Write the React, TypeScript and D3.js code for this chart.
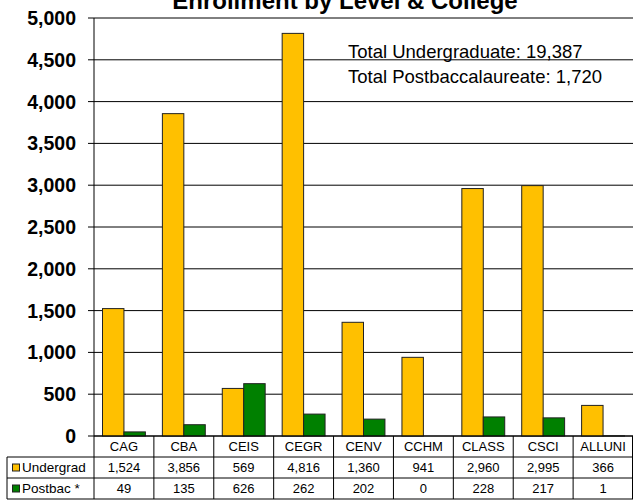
import React from "react";
import * as d3 from "d3";

const categories = ["CAG", "CBA", "CEIS", "CEGR", "CENV", "CCHM", "CLASS", "CSCI", "ALLUNI"];
const undergrad = [1524, 3856, 569, 4816, 1360, 941, 2960, 2995, 366];
const postbac = [49, 135, 626, 262, 202, 0, 228, 217, 1];
const seriesNames = ["Undergrad", "Postbac *"];
const seriesColors = ["#FFC000", "#008000"];
const yTicks = [0, 500, 1000, 1500, 2000, 2500, 3000, 3500, 4000, 4500, 5000];
const title = "Enrollment by Level & College";
const notes = ["Total Undergraduate: 19,387", "Total Postbaccalaureate: 1,720"];

export default function App() {
  const W = 633, H = 504;
  const left = 94, right = 633, top = 18, bottom = 436;
  const rowH = 21;
  const labelLeft = 7;
  const x = d3.scaleBand<string>().domain(categories).range([left, right]);
  const bw = x.bandwidth();
  const inner = d3.scaleBand<string>().domain(["u", "p"]).range([8.5, bw - 8.5]);
  const y = d3.scaleLinear().domain([0, 5000]).range([bottom, top]);
  const fmt = d3.format(",");
  const font = "Arial, 'Liberation Sans', sans-serif";
  const series = [undergrad, postbac];
  const keys = ["u", "p"];

  return (
    <svg width={W} height={H} style={{ position: "absolute", left: 0, top: 0, background: "#fff" }} fontFamily={font}>
      <rect x={0} y={0} width={W} height={H} fill="#fff" />
      {yTicks.map((t) => (
        <g key={t}>
          <line x1={left} x2={right} y1={y(t)} y2={y(t)} stroke="#000" strokeWidth={1} />
          <line x1={left - 6} x2={left} y1={y(t)} y2={y(t)} stroke="#000" strokeWidth={1} />
          <text x={76} y={y(t)} dy="0.36em" textAnchor="end" fontSize={19.5} fontWeight="bold" fill="#000">
            {fmt(t)}
          </text>
        </g>
      ))}
      <line x1={left} x2={left} y1={top} y2={bottom} stroke="#000" strokeWidth={1} />
      {categories.map((c, i) => (
        <g key={c}>
          {series.map((s, j) => (
            <rect
              key={j}
              x={(x(c) as number) + (inner(keys[j]) as number)}
              y={y(s[i])}
              width={inner.bandwidth()}
              height={bottom - y(s[i])}
              fill={seriesColors[j]}
              stroke="#222"
              strokeWidth={1}
            />
          ))}
        </g>
      ))}
      <line x1={left} x2={right} y1={bottom} y2={bottom} stroke="#000" strokeWidth={1} />
      <text x={345} y={8.5} textAnchor="middle" fontSize={24} fontWeight="bold" fill="#000">
        {title}
      </text>
      {notes.map((n, i) => (
        <text key={i} x={348} y={58 + i * 25} fontSize={18.5} fill="#000">
          {n}
        </text>
      ))}
      <g fontSize={13} fill="#000">
        {categories.map((c, i) => (
          <g key={c}>
            <line x1={x(c)} x2={x(c)} y1={bottom} y2={bottom + rowH * 3} stroke="#000" />
            <text x={(x(c) as number) + bw / 2} y={bottom + rowH / 2} dy="0.36em" textAnchor="middle">
              {c}
            </text>
            {series.map((s, j) => (
              <text key={j} x={(x(c) as number) + bw / 2} y={bottom + rowH * (j + 1) + rowH / 2} dy="0.36em" textAnchor="middle">
                {fmt(s[i])}
              </text>
            ))}
          </g>
        ))}
        <line x1={right - 0.5} x2={right - 0.5} y1={bottom} y2={bottom + rowH * 3} stroke="#000" />
        {[1, 2, 3].map((r) => (
          <line key={r} x1={labelLeft} x2={right} y1={bottom + rowH * r} y2={bottom + rowH * r} stroke="#000" />
        ))}
        <line x1={labelLeft} x2={labelLeft} y1={bottom + rowH} y2={bottom + rowH * 3} stroke="#000" />
        {seriesNames.map((n, j) => (
          <g key={n}>
            <rect x={12.5} y={bottom + rowH * (j + 1) + rowH / 2 - 3.5} width={7} height={7} fill={seriesColors[j]} stroke="#222" />
            <text x={22} y={bottom + rowH * (j + 1) + rowH / 2} dy="0.36em" fontSize={13.5}>
              {n}
            </text>
          </g>
        ))}
      </g>
    </svg>
  );
}
